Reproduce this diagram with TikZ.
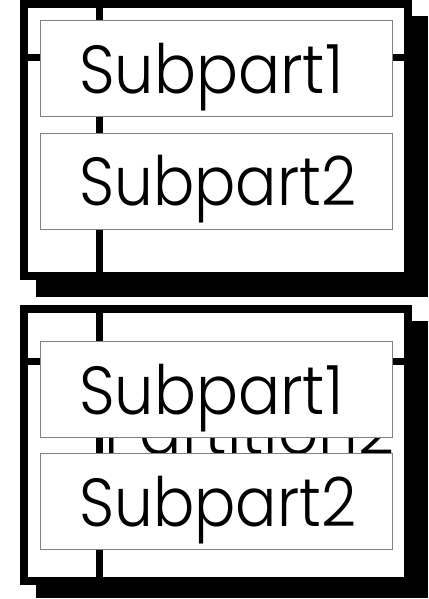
\documentclass[tikz,border=0pt]{standalone}
\usepackage{fontspec}
\setmainfont{Poppins}[UprightFont=* Light]
\begin{document}
\begin{tikzpicture}[x=1pt,y=-1pt,
  shadowbox/.style={fill=black,draw=none},
  framebox/.style={draw=black,line width=8pt,fill=white},
  lane/.style={draw=black,line width=7pt},
  subbox/.style={draw=black!50,line width=1pt,fill=white,rectangle,inner sep=0pt,minimum width=352pt,minimum height=96pt},
  lbl/.style={font=\fontsize{68}{72}\selectfont,inner sep=0pt,anchor=base west}
]
\useasboundingbox (0,0) rectangle (428,599);
% ---------- top panel ----------
\fill[shadowbox] (36,16) rectangle (428,297);
\draw[framebox] (24,4) rectangle (408,276);
\coordinate (t1) at (99.5,8);
\coordinate (t2) at (99.5,272);
\coordinate (t3) at (28,58);
\coordinate (t4) at (404,58);
\draw[lane] (t1) -- (t2);
\draw[lane] (t3) -- (t4);
\node[subbox] (aS1) at (216,69) {};
\node[subbox] (aS2) at (216,181) {};
\node[lbl] (aL1) at (79,94) {\resizebox{264pt}{\height}{Subpart1}};
\node[lbl] (aL2) at (79,205) {\resizebox{277pt}{\height}{Subpart2}};
% ---------- bottom panel ----------
\fill[shadowbox] (36,321) rectangle (428,598);
\draw[framebox] (24,309) rectangle (408,581);
\coordinate (b1) at (99.5,313);
\coordinate (b2) at (99.5,577);
\coordinate (b3) at (28,361.5);
\coordinate (b4) at (404,361.5);
\draw[lane] (b1) -- (b2);
\draw[lane] (b3) -- (b4);
\node[lbl] (bP) at (104,454) {\resizebox{290pt}{\height}{Partition2}};
\node[subbox] (bS1) at (216,389) {};
\node[subbox] (bS2) at (216,501) {};
\node[lbl] (bL1) at (79,414) {\resizebox{264pt}{\height}{Subpart1}};
\node[lbl] (bL2) at (79,526) {\resizebox{277pt}{\height}{Subpart2}};
\end{tikzpicture}
\end{document}
